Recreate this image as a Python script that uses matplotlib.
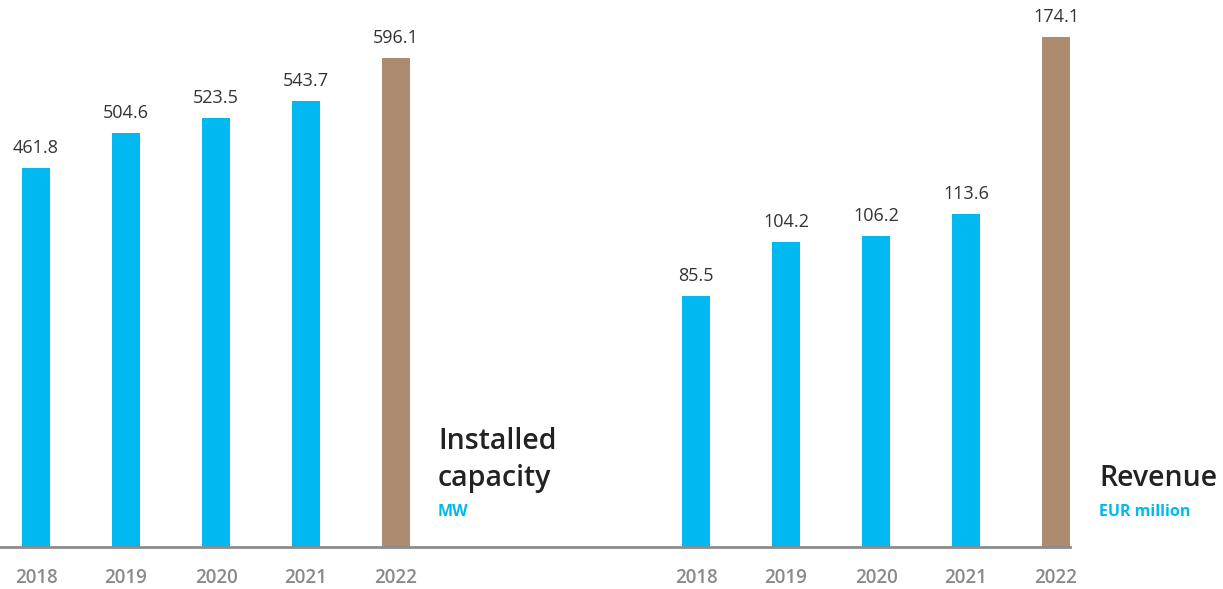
import numpy as np
import matplotlib.pyplot as plt
from matplotlib.lines import Line2D

plt.rcParams['font.family'] = ['Open Sans', 'DejaVu Sans']

years = ['2018', '2019', '2020', '2021', '2022']
capacity = [461.8, 504.6, 523.5, 543.7, 596.1]
revenue = [85.5, 104.2, 106.2, 113.6, 174.1]

CYAN = '#00b9f1'
BROWN = '#ad8b6f'
W, H = 1223, 589

fig = plt.figure(figsize=(W / 100, H / 100), dpi=100)
base = 42  # baseline height in px from the bottom


def panel(x0, x1, values, ymax, title, ty, unit, tx):
    ax = fig.add_axes([x0 / W, base / H, (x1 - x0) / W, (H - base) / H])
    x = np.arange(len(values))
    colors = [CYAN] * (len(values) - 1) + [BROWN]
    ax.bar(x, values, width=0.31, color=colors, zorder=2)
    for xi, v in zip(x, values):
        ax.annotate(f'{v:.1f}', (xi, v), xytext=(0, 8), textcoords='offset points',
                    ha='center', va='bottom', fontsize=13, color='#333333')
    ax.set_xlim(-0.4, (x1 - x0 - 36) / 90)
    ax.set_ylim(0, ymax)
    ax.set_xticks(x, years)
    ax.tick_params(axis='x', length=0, pad=15, labelsize=13.5, labelcolor='#8a8a8a')
    for lbl in ax.get_xticklabels():
        lbl.set_fontweight('semibold')
    ax.set_yticks([])
    for s in ax.spines.values():
        s.set_visible(False)
    ax.patch.set_alpha(0)
    fig.text(tx / W, 1 - ty / H, title, fontsize=20.5, color='#222222',
             ha='left', va='center', linespacing=1.32, fontweight='semibold')
    fig.text(tx / W, 1 - 512 / H, unit, fontsize=11.5, color=CYAN,
             ha='left', va='center', fontweight='bold')
    return ax


panel(0, 440, capacity, 547 / 0.82, 'Installed\ncapacity', 460, 'MW', 438)
panel(660, 1070, revenue, 547 / 2.93, 'Revenue', 478, 'EUR million', 1099)

# shared baseline across both panels
fig.add_artist(Line2D([0, 1070 / W], [base / H, base / H], color='#8c8c8c', lw=2,
                      transform=fig.transFigure, zorder=3))

fig.savefig('out.png', dpi=100)
